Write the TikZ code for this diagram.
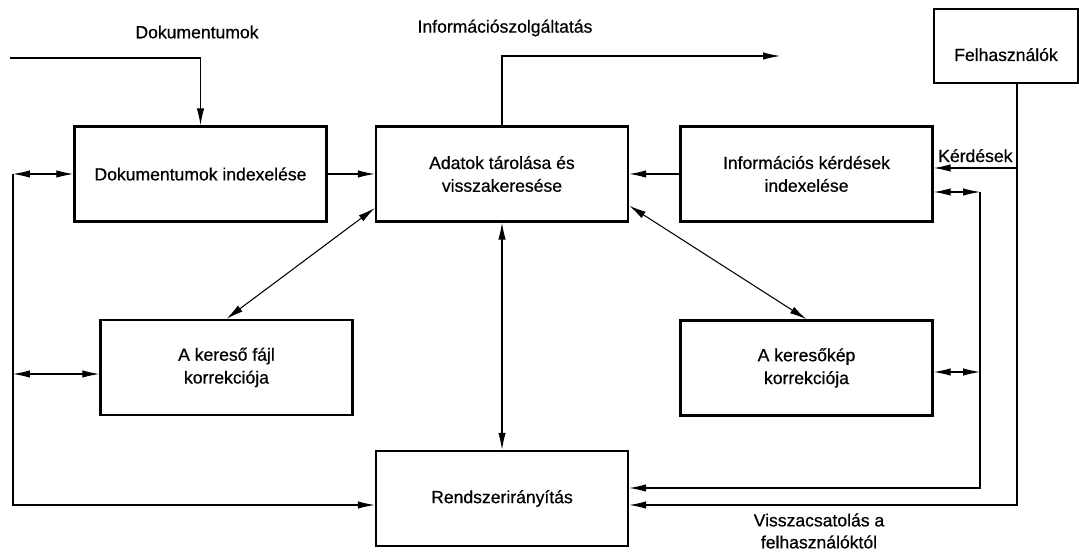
\documentclass[tikz,border=0pt]{standalone}
\usepackage{fontspec}
\setmainfont{Liberation Sans}[FakeBold=0.6]
\usepackage{tikz}
\usetikzlibrary{arrows.meta,positioning,calc}
\tikzset{
  block/.style={
    draw=black,
    line width=1.4pt,
    align=center,
    minimum height=19mm,
    minimum width=50.4mm,
    font=\fontsize{10}{13}\selectfont
  },
  userblock/.style={
    draw=black,
    line width=1.4pt,
    align=center,
    text height=9.2mm,
    text depth=3.2mm,
    minimum width=28.8mm,
    font=\fontsize{10}{13}\selectfont
  },
  lbl/.style={
    align=center,
    inner sep=1pt,
    font=\fontsize{10}{12.5}\selectfont
  },
  arr/.style={-{Latex[length=3.4mm,width=1.5mm]},line width=0.6pt},
  dblarr/.style={{Latex[length=3.4mm,width=1.5mm]}-{Latex[length=3.4mm,width=1.5mm]},line width=0.6pt}
}

\begin{document}
\begin{tikzpicture}
            \useasboundingbox (0,0) rectangle (21.58,11.14);
            \node[block] (docidx) at (4.01,7.66) {Dokumentumok indexelése};
            \node[block] (store) at (10.04,7.66) {Adatok tárolása és\\visszakeresése};
            \node[block] (queryidx) at (16.13,7.66) {Információs kérdések\\indexelése};
            \node[block] (filecorr) at (4.53,3.79) {A kereső fájl\\korrekciója};
            \node[block] (profcorr) at (16.13,3.78) {A keresőkép\\korrekciója};
            \node[block] (control) at (10.04,1.17) {Rendszerirányítás};
            \node[userblock] (users) at (20.12,10.22) {Felhasználók};
            \node[lbl] (doclbl) at (3.94,10.5) {Dokumentumok};
            \node[lbl] (infolbl) at (10.1,10.58) {Információszolgáltatás};
            \node[lbl] (fblbl) at (16.38,0.52) {Visszacsatolás a\\felhasználóktól};
            % inputs and outputs of the store
            \coordinate (docsrc) at (0.2,9.98);
            \coordinate (infodst) at (15.6,10.02);
            \draw[arr] (docsrc) -| (docidx.north);
            \draw[arr] (docidx) -- (store);
            \draw[arr] (store.north) |- (infodst);
            \draw[arr] (queryidx) -- (store);
            \draw[dblarr] (store.195) -- (filecorr.north);
            \draw[dblarr] (store.-14) -- (profcorr.north);
            \draw[dblarr] (store.south) -- (control.north);
            % users
            \coordinate (qtap) at (20.34,7.78);
            \coordinate (ubot) at (20.34,1.04);
            \draw[arr] (users.south -| qtap) -- (ubot) -- (control.east |- ubot);
            \draw[arr] (qtap) -- node[lbl,above=2pt] (qlbl) {Kérdések} (queryidx.east |- qtap);
            % right loop
            \coordinate (rtop) at (19.6,7.30);
            \coordinate (rmid) at (19.6,3.70);
            \coordinate (rbot) at (19.6,1.38);
            \draw[dblarr] (queryidx.east |- rtop) -- (rtop);
            \draw[dblarr] (profcorr.east |- rmid) -- (rmid);
            \draw[arr] (rtop) -- (rbot) -- (control.east |- rbot);
            % left loop
            \coordinate (ltop) at (0.26,7.66);
            \coordinate (lmid) at (0.26,3.66);
            \coordinate (lbot) at (0.26,1.04);
            \draw[dblarr] (ltop) -- (docidx.west |- ltop);
            \draw[dblarr] (lmid) -- (filecorr.west |- lmid);
            \draw[arr] (ltop) -- (lbot) -- (control.west |- lbot);
          \end{tikzpicture}
\end{document}
